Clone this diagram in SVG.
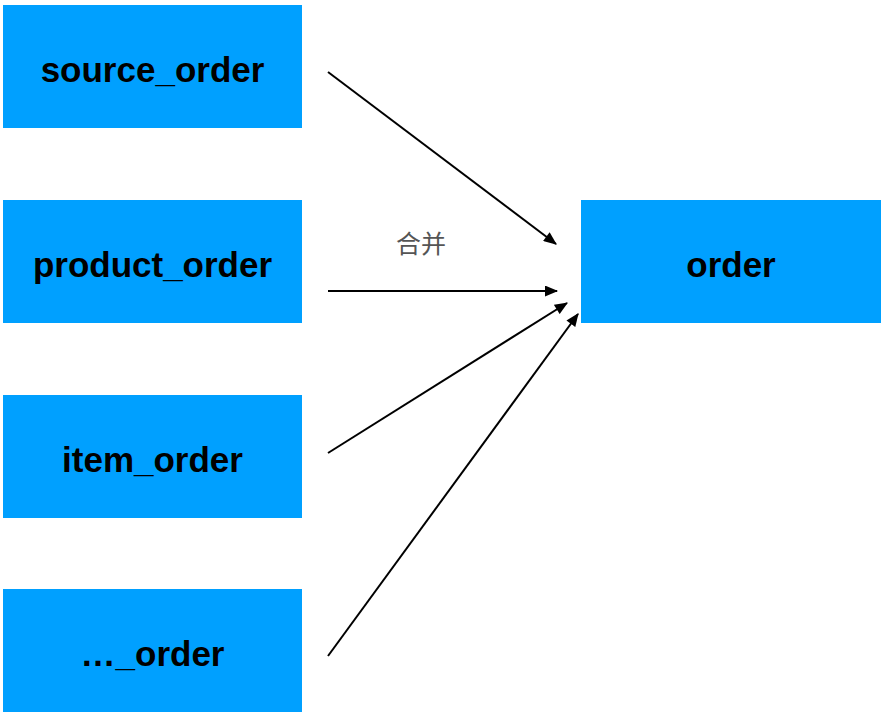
<svg xmlns="http://www.w3.org/2000/svg" width="885" height="717" viewBox="0 0 885 717">
  <style>
    .box { fill: #00A0FF; }
    .label { font-family: "Liberation Sans", Arial, sans-serif; font-weight: bold; font-size: 35px; fill: #000; text-anchor: middle; }
    .edge { stroke: #000; stroke-width: 2; fill: none; marker-end: url(#arrow); }
    .note { font-family: "Noto Sans CJK SC", "Liberation Sans", sans-serif; font-size: 25px; fill: #555; }
  </style>
  <defs>
    <marker id="arrow" viewBox="0 0 12 10" refX="11" refY="5" markerWidth="7" markerHeight="5.5" orient="auto" markerUnits="strokeWidth">
      <path d="M0,0 L12,5 L0,10 Z" fill="#000"/>
    </marker>
  </defs>
  <rect width="885" height="717" fill="#fff"/>

  <g id="source_order">
    <rect class="box" x="3" y="5" width="299" height="123"/>
    <text class="label" x="152.5" y="82">source_order</text>
  </g>
  <g id="product_order">
    <rect class="box" x="3" y="200" width="299" height="123"/>
    <text class="label" x="152.5" y="277">product_order</text>
  </g>
  <g id="item_order">
    <rect class="box" x="3" y="395" width="299" height="123"/>
    <text class="label" x="152.5" y="472">item_order</text>
  </g>
  <g id="more_order">
    <rect class="box" x="3" y="589" width="299" height="123"/>
    <text class="label" x="152.5" y="666">…_order</text>
  </g>
  <g id="order">
    <rect class="box" x="581" y="200" width="300" height="123"/>
    <text class="label" x="731" y="277">order</text>
  </g>

  <g id="connectors">
    <line class="edge" x1="328" y1="72" x2="556" y2="244"/>
    <line class="edge" x1="328" y1="291" x2="557" y2="291"/>
    <line class="edge" x1="328" y1="453" x2="567" y2="303"/>
    <line class="edge" x1="328" y1="656" x2="578" y2="314"/>
    <text class="note" x="396" y="253">合并</text>
  </g>
</svg>
